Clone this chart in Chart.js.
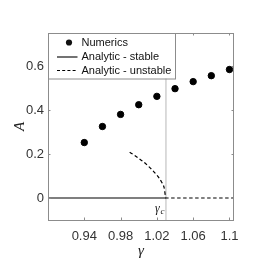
<!DOCTYPE html>
<html><head><meta charset="utf-8">
<script src="https://cdn.jsdelivr.net/npm/chart.js@4/dist/chart.umd.min.js"></script>
<style>html,body{margin:0;padding:0;background:#fff}#wrap{width:274px;height:274px}</style>
</head><body><div id="wrap"><canvas id="c" width="274" height="274"></canvas></div>
<script>
const numGamma = [0.94, 0.96, 0.98, 1.00, 1.02, 1.04, 1.06, 1.08, 1.10];
const numA     = [0.252, 0.325, 0.380, 0.424, 0.462, 0.497, 0.529, 0.556, 0.584];
const stableGamma = [0.9, 1.03];
const stableA     = [0, 0];
const unstableGamma = [0.99, 0.995, 1.0, 1.005, 1.01, 1.015, 1.02, 1.025, 1.028, 1.03, 1.105];
const unstableA     = [0.208, 0.195, 0.180, 0.165, 0.147, 0.127, 0.104, 0.074, 0.047, 0, 0];
const gammaC = 1.03;
const xTicks = [0.94, 0.98, 1.02, 1.06, 1.1];
const yTicks = [0, 0.2, 0.4, 0.6];
const legendLabels = ['Numerics', 'Analytic - stable', 'Analytic - unstable'];

const pts = (xs, ys) => xs.map((x, i) => ({x, y: ys[i]}));
const AX = '#8c8c8c';

const deco = {
  id: 'deco',
  afterDatasetsDraw(chart) {
    const {ctx, chartArea: a, scales: {x, y}} = chart;
    ctx.save();
    // box
    ctx.strokeStyle = AX; ctx.lineWidth = 1;
    ctx.strokeRect(a.left + 0.5, a.top + 0.5, a.right - a.left - 1, a.bottom - a.top);
    // inward ticks
    ctx.beginPath();
    xTicks.forEach(v => { const px = Math.round(x.getPixelForValue(v)) + 0.5;
      ctx.moveTo(px, a.bottom); ctx.lineTo(px, a.bottom - 2.5);
      ctx.moveTo(px, a.top); ctx.lineTo(px, a.top + 2.5); });
    yTicks.forEach(v => { const py = Math.round(y.getPixelForValue(v)) + 0.5;
      ctx.moveTo(a.left, py); ctx.lineTo(a.left + 2.5, py);
      ctx.moveTo(a.right, py); ctx.lineTo(a.right - 2.5, py); });
    ctx.stroke();
    // gamma_c label
    const gx = x.getPixelForValue(gammaC);
    ctx.fillStyle = '#222';
    ctx.textBaseline = 'alphabetic';
    ctx.font = 'italic 12px "Liberation Serif"';
    ctx.textAlign = 'left';
    ctx.fillText('γ', gx - 11, 212);
    ctx.font = 'italic 9px "Liberation Serif"';
    ctx.fillText('c', gx - 5.5, 214);
    // legend
    const lx = a.left, ly = a.top, lw = 127, lh = 45.5;
    ctx.fillStyle = '#fff';
    ctx.fillRect(lx, ly, lw, lh);
    ctx.strokeStyle = AX;
    ctx.strokeRect(lx + 0.5, ly + 0.5, lw, lh);
    ctx.font = '11px "Liberation Sans"';
    ctx.fillStyle = '#111';
    ctx.textBaseline = 'middle';
    const rows = [ly + 10, ly + 24, ly + 37.5];
    legendLabels.forEach((t, i) => ctx.fillText(t, lx + 33.5, rows[i]));
    ctx.beginPath(); ctx.arc(lx + 21, rows[0] - 0.5, 3.1, 0, Math.PI * 2); ctx.fill();
    ctx.strokeStyle = '#000'; ctx.lineWidth = 1.1;
    ctx.beginPath(); ctx.moveTo(lx + 9, rows[1]); ctx.lineTo(lx + 29.5, rows[1]); ctx.stroke();
    ctx.setLineDash([3, 2.2]);
    ctx.beginPath(); ctx.moveTo(lx + 9, rows[2]); ctx.lineTo(lx + 29.5, rows[2]); ctx.stroke();
    ctx.setLineDash([]);
    // axis titles
    ctx.fillStyle = '#222';
    ctx.font = 'italic 15px "Liberation Serif"';
    ctx.textAlign = 'center'; ctx.textBaseline = 'middle';
    ctx.fillText('γ', (a.left + a.right) / 2, 251);
    ctx.save(); ctx.translate(20, (a.top + a.bottom) / 2); ctx.rotate(-Math.PI / 2);
    ctx.fillText('A', 0, 0); ctx.restore();
    ctx.restore();
  }
};

new Chart(document.getElementById('c'), {
  type: 'scatter',
  data: { datasets: [
    { label: legendLabels[0], data: pts(numGamma, numA), backgroundColor: '#000', borderColor: '#000', pointRadius: 3.2, showLine: false },
    { label: legendLabels[1], data: pts(stableGamma, stableA), showLine: true, borderColor: '#000', borderWidth: 1.2, pointRadius: 0 },
    { label: legendLabels[2], data: pts(unstableGamma, unstableA), showLine: true, borderColor: '#000', borderWidth: 1.2, borderDash: [3.5, 2.5], pointRadius: 0, cubicInterpolationMode: 'monotone' },
    { label: 'gc', data: [{x: gammaC, y: -0.1}, {x: gammaC, y: 0.75}], showLine: true, borderColor: '#c8c8c8', borderWidth: 1.3, pointRadius: 0 }
  ]},
  options: {
    responsive: false, animation: false, devicePixelRatio: 1,
    layout: { padding: { top: 33, right: 40, left: 0, bottom: 0 } },
    plugins: { legend: { display: false }, tooltip: { enabled: false } },
    scales: {
      x: { type: 'linear', min: 0.9, max: 1.105,
        afterBuildTicks: s => { s.ticks = xTicks.map(v => ({value: v})); },
        afterFit: s => { s.height = 54; },
        grid: { display: false, drawTicks: false }, border: { display: false },
        ticks: { padding: 9, color: '#333', font: { family: 'Liberation Sans', size: 13 }, maxRotation: 0, autoSkip: false,
          callback: v => String(+v.toFixed(2)) } },
      y: { type: 'linear', min: -0.1, max: 0.75,
        afterBuildTicks: s => { s.ticks = yTicks.map(v => ({value: v})); },
        afterFit: s => { s.width = 48; },
        grid: { display: false, drawTicks: false }, border: { display: false },
        ticks: { padding: 4, color: '#333', font: { family: 'Liberation Sans', size: 13 }, autoSkip: false,
          callback: v => String(+v.toFixed(1)) } }
    }
  },
  plugins: [deco]
});
</script></body></html>
